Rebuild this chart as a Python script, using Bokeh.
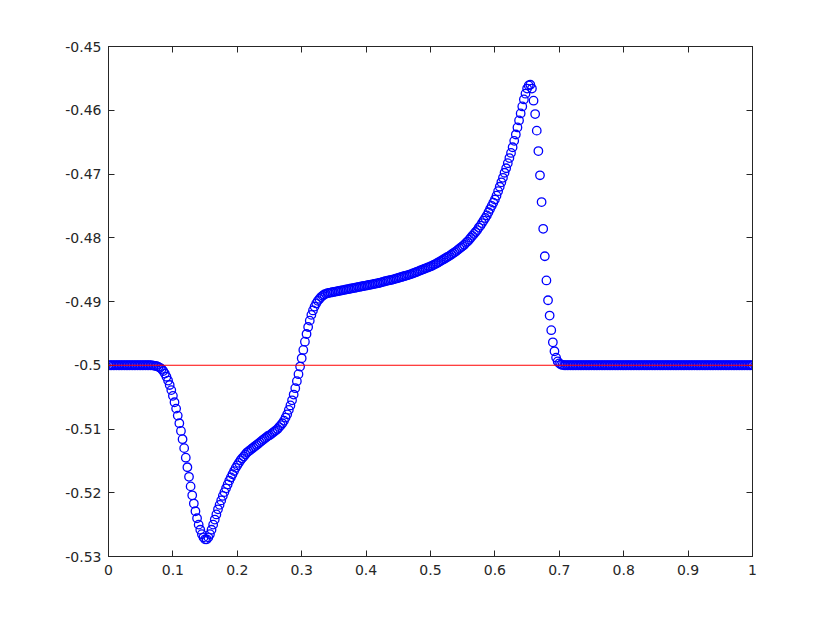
import numpy as np
from bokeh.plotting import figure
from bokeh.models import (LinearAxis, FixedTicker, Span, Range1d,
                          CustomJSTickFormatter, ColumnDataSource)
from bokeh.embed import file_html
from bokeh.resources import INLINE

# ---------------- data ----------------
X_TICKS = [0, 0.1, 0.2, 0.3, 0.4, 0.5, 0.6, 0.7, 0.8, 0.9, 1]
X_TICK_LABELS = ["0", "0.1", "0.2", "0.3", "0.4", "0.5", "0.6", "0.7", "0.8", "0.9", "1"]
Y_TICKS = [-0.53, -0.52, -0.51, -0.5, -0.49, -0.48, -0.47, -0.46, -0.45]
Y_TICK_LABELS = ["-0.53", "-0.52", "-0.51", "-0.5", "-0.49", "-0.48", "-0.47", "-0.46", "-0.45"]
REF_LEVEL = -0.5

Y_VALUES = (
    [-0.5] * 27 +
    [-0.50002, -0.50005, -0.5001, -0.50015, -0.50025, -0.5004, -0.5006, -0.5009,
     -0.5013, -0.5018, -0.5024, -0.5031, -0.5039, -0.5048, -0.5058, -0.5068,
     -0.5079, -0.5091, -0.5103, -0.5116, -0.5130, -0.5145, -0.5160, -0.5175,
     -0.5190, -0.5204, -0.5217, -0.5229, -0.5240, -0.5250, -0.5258, -0.5265,
     -0.5270, -0.5273, -0.5273, -0.5270, -0.5265, -0.5258, -0.5250, -0.5242,
     -0.5234, -0.5226, -0.5219, -0.5212, -0.5205, -0.5199, -0.5193, -0.5187,
     -0.5181, -0.5176, -0.5171, -0.5166, -0.5161, -0.5157, -0.5153, -0.5149,
     -0.5146, -0.5143, -0.5140, -0.5137, -0.5135, -0.5133, -0.5131, -0.5129,
     -0.5127, -0.5125, -0.5123, -0.5121, -0.5119, -0.5117, -0.5115, -0.5113,
     -0.5111, -0.5110, -0.5108, -0.5106, -0.5104, -0.5102, -0.5100, -0.5097,
     -0.5094, -0.5091, -0.5087, -0.5082, -0.5077, -0.5070, -0.5063, -0.5055,
     -0.5046, -0.5036, -0.5025, -0.5014, -0.5002, -0.4989, -0.4976, -0.4963,
     -0.4951, -0.4940, -0.4930, -0.4921, -0.4914, -0.4908, -0.4903, -0.4899,
     -0.4896, -0.4893, -0.4891, -0.4889, -0.4888] +
    [-0.4887, -0.48865, -0.4886, -0.48855,
     -0.4885, -0.48845, -0.4884, -0.48835,
     -0.4883, -0.48825, -0.4882, -0.48815,
     -0.4881, -0.48805, -0.4880, -0.48795,
     -0.4879, -0.48785, -0.4878, -0.48775,
     -0.4877, -0.48765, -0.4876, -0.48755,
     -0.4875, -0.48745, -0.4874, -0.48735,
     -0.4873, -0.48725, -0.4872, -0.48715,
     -0.4871, -0.48703, -0.48696, -0.48689,
     -0.4868, -0.48675, -0.4867, -0.48665,
     -0.4866, -0.48652, -0.48645, -0.48638,
     -0.4863, -0.48623, -0.48615, -0.48608,
     -0.4860, -0.48593, -0.48585, -0.48578,
     -0.4857, -0.4856, -0.4855, -0.4854,
     -0.4853, -0.4852, -0.4851, -0.4850,
     -0.4849, -0.4848, -0.4847, -0.4846,
     -0.4845, -0.48438, -0.48425, -0.48413,
     -0.4840, -0.48385, -0.4837, -0.48355,
     -0.4834, -0.48325, -0.4831, -0.48295,
     -0.4828, -0.48263, -0.48245, -0.48228,
     -0.4821, -0.4819, -0.4817, -0.4815,
     -0.4813, -0.4811, -0.4808, -0.4806,
     -0.4803, -0.4800, -0.4797, -0.4794,
     -0.4791, -0.4788, -0.4784, -0.4781,
     -0.4777, -0.4773, -0.4769, -0.4765,
     -0.4760, -0.4755, -0.4750, -0.4745,
     -0.4740, -0.4734, -0.4727, -0.4720,
     -0.4713, -0.4706, -0.4698, -0.4691,
     -0.4683, -0.4675, -0.4667, -0.4658,
     -0.4648, -0.4638, -0.4627, -0.4616,
     -0.4605, -0.4594, -0.4583, -0.4574,
     -0.4566] +
    [-0.4561, -0.4560, -0.4566, -0.4585, -0.4606, -0.4632, -0.4664, -0.4702,
     -0.4744, -0.4786, -0.4829, -0.4867, -0.4898, -0.4922, -0.4945, -0.4964,
     -0.4978, -0.4988, -0.4994, -0.4997, -0.4999, -0.49995] +
    [-0.5] * 118
)
X_VALUES = np.linspace(0, 1, len(Y_VALUES))

source = ColumnDataSource(data=dict(x=X_VALUES, y=Y_VALUES))

# ---------------- figure ----------------
p = figure(width=808, height=608,
           x_range=Range1d(X_TICKS[0], X_TICKS[-1]),
           y_range=Range1d(Y_TICKS[0], Y_TICKS[-1]),
           output_backend="svg", toolbar_location=None,
           min_border_left=108, min_border_right=56,
           min_border_top=46, min_border_bottom=52)
p.background_fill_color = "white"
p.border_fill_color = "white"
p.outline_line_color = "#262626"
p.outline_line_width = 1
p.xgrid.visible = False
p.ygrid.visible = False

p.add_layout(LinearAxis(), "above")
p.add_layout(LinearAxis(), "right")

FONT = "DejaVu Sans"
AX_COLOR = "#262626"

for ax in p.xaxis:
    ax.ticker = FixedTicker(ticks=X_TICKS)
for ax in p.yaxis:
    ax.ticker = FixedTicker(ticks=Y_TICKS)

p.below[0].major_label_overrides = {t: l for t, l in zip(X_TICKS, X_TICK_LABELS)}
p.left[0].major_label_overrides = {t: l for t, l in zip(Y_TICKS, Y_TICK_LABELS)}

for ax in p.xaxis + p.yaxis:
    ax.axis_line_color = AX_COLOR
    ax.axis_line_width = 1
    ax.major_tick_line_color = AX_COLOR
    ax.major_tick_line_width = 1
    ax.major_tick_in = 6
    ax.major_tick_out = 0
    ax.minor_tick_line_color = None
    ax.major_label_text_font = FONT
    ax.major_label_text_font_size = "14px"
    ax.major_label_text_color = AX_COLOR

p.left[0].major_label_standoff = 7
p.below[0].major_label_standoff = 8

for ax in [p.above[0], p.right[0]]:
    ax.formatter = CustomJSTickFormatter(code="return '';")
    ax.major_label_standoff = 0

p.scatter("x", "y", source=source, marker="circle", size=8.5,
          fill_color=None, line_color="#0000ff", line_width=1.3)

p.add_layout(Span(location=REF_LEVEL, dimension="width",
                  line_color="#ff0000", line_width=1))

open("out.html", "w").write(file_html(p, INLINE))
